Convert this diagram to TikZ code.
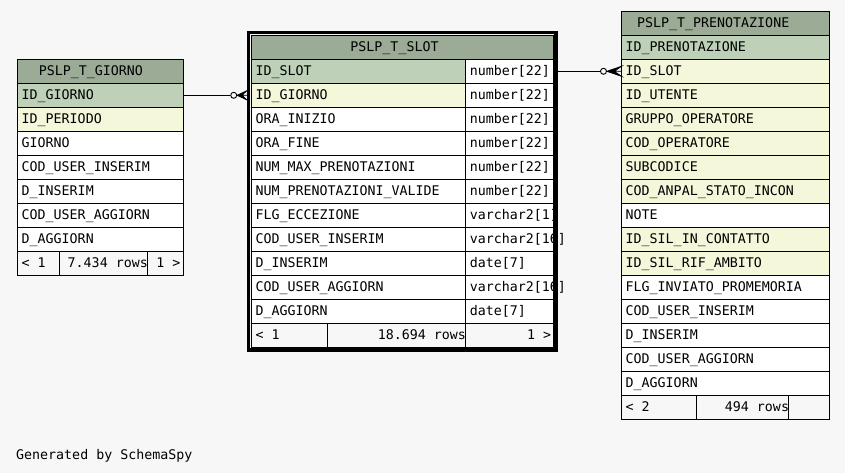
\documentclass[tikz,border=0pt]{standalone}
\usepackage{fontspec}
\newfontfamily\spyfont{DejaVu Sans Mono}
\usetikzlibrary{positioning,fit,calc}

\definecolor{spybg}{HTML}{F7F7F7}
\definecolor{spyhead}{HTML}{9BAB96}
\definecolor{spypk}{HTML}{BED1B8}
\definecolor{spyfk}{HTML}{F4F7DA}

\tikzset{
	spycell/.style={draw,rectangle,anchor=north west,minimum height=24pt,inner sep=0pt,outer sep=0pt,line width=1pt},
	spytext/.style={anchor=base west,inner sep=0pt,font={\spyfont\fontsize{13.3pt}{15pt}\selectfont}},
	spyright/.style={spytext,anchor=base east},
	odot/.style={circle,draw,fill=spybg,minimum size=6pt,inner sep=0pt,line width=0.9pt},
	crowfoot/.style={line width=0.8pt,line join=miter}
}

\begin{document}
\begin{tikzpicture}[x=1pt,y=-1pt]
		
			\useasboundingbox (0,0) rectangle (845,473);
			\fill[spybg] (0,0) rectangle (845,473);
			
			% PSLP_T_GIORNO
			\node[spycell,fill=spyhead,minimum width=166pt] (giorno-head) at (17.5,59.3) {};
			\node[spytext,anchor=base] (giorno-title) at ([xshift=-9.7pt,yshift=-16pt]giorno-head.north) {PSLP\_T\_GIORNO};
			\foreach \cname/\ctint [count=\i] in {ID\_GIORNO/spypk,ID\_PERIODO/spyfk,GIORNO/white,COD\_USER\_INSERIM/white,D\_INSERIM/white,COD\_USER\_AGGIORN/white,D\_AGGIORN/white} {
				\node[spycell,fill=\ctint,minimum width=166pt] (giorno-\i) at (17.5,{59.3+24*\i}) {};
				\node[spytext] (giorno-\i-txt) at ([xshift=4pt,yshift=-16pt]giorno-\i.north west) {\cname};
			}
			\node[spycell,minimum width=42pt] (giorno-foot-a) at (17.5,251.3) {};
			\node[spycell,minimum width=88pt,right=0pt of giorno-foot-a] (giorno-foot-b) {};
			\node[spycell,minimum width=36pt,right=0pt of giorno-foot-b] (giorno-foot-c) {};
			\node[spytext] (giorno-prev) at ([xshift=4pt,yshift=-16pt]giorno-foot-a.north west) {< 1};
			\node[spyright] (giorno-rows) at ([xshift=0.5pt,yshift=-16pt]giorno-foot-b.north east) {7.434 rows};
			\node[spyright] (giorno-next) at ([xshift=-3pt,yshift=-16pt]giorno-foot-c.north east) {1 >};
			
			% PSLP_T_SLOT
			\node[spycell,fill=spyhead,minimum width=302pt] (slot-head) at (251.3,35.3) {};
			\node[spytext,anchor=base] (slot-title) at ([xshift=-7.8pt,yshift=-16pt]slot-head.north) {PSLP\_T\_SLOT};
			\foreach \cname/\ctype/\ctint [count=\i] in {ID\_SLOT/number[22]/spypk,ID\_GIORNO/number[22]/spyfk,ORA\_INIZIO/number[22]/white,ORA\_FINE/number[22]/white,NUM\_MAX\_PRENOTAZIONI/number[22]/white,NUM\_PRENOTAZIONI\_VALIDE/number[22]/white,FLG\_ECCEZIONE/varchar2[1]/white,COD\_USER\_INSERIM/varchar2[16]/white,D\_INSERIM/date[7]/white,COD\_USER\_AGGIORN/varchar2[16]/white,D\_AGGIORN/date[7]/white} {
				\node[spycell,fill=\ctint,minimum width=214.4pt] (slot-\i) at (251.3,{35.3+24*\i}) {};
				\node[spycell,fill=white,minimum width=87.6pt,right=0pt of slot-\i] (slot-\i-type) {};
				\node[spytext] (slot-\i-txt) at ([xshift=4pt,yshift=-16pt]slot-\i.north west) {\cname};
				\node[spytext] (slot-\i-typetxt) at ([xshift=4pt,yshift=-16pt]slot-\i-type.north west) {\ctype};
			}
			\node[spycell,minimum width=76pt] (slot-foot-a) at (251.3,323.3) {};
			\node[spycell,minimum width=138.4pt,right=0pt of slot-foot-a] (slot-foot-b) {};
			\node[spycell,minimum width=87.6pt,right=0pt of slot-foot-b] (slot-foot-c) {};
			\node[spytext] (slot-prev) at ([xshift=4pt,yshift=-16pt]slot-foot-a.north west) {< 1};
			\node[spyright] (slot-rows) at ([xshift=0.5pt,yshift=-16pt]slot-foot-b.north east) {18.694 rows};
			\node[spyright] (slot-next) at ([xshift=-2pt,yshift=-16pt]slot-foot-c.north east) {1 >};
			\node[draw,line width=3.5pt,inner sep=2.8pt,fit=(slot-head)(slot-foot-c)] (slot-frame) {};
			
			% PSLP_T_PRENOTAZIONE
			\node[spycell,fill=spyhead,minimum width=208pt] (pren-head) at (621.5,11.3) {};
			\node[spytext,anchor=base] (pren-title) at ([xshift=-12.3pt,yshift=-16pt]pren-head.north) {PSLP\_T\_PRENOTAZIONE};
			\foreach \cname/\ctint [count=\i] in {ID\_PRENOTAZIONE/spypk,ID\_SLOT/spyfk,ID\_UTENTE/spyfk,GRUPPO\_OPERATORE/spyfk,COD\_OPERATORE/spyfk,SUBCODICE/spyfk,COD\_ANPAL\_STATO\_INCON/spyfk,NOTE/white,ID\_SIL\_IN\_CONTATTO/spyfk,ID\_SIL\_RIF\_AMBITO/spyfk,FLG\_INVIATO\_PROMEMORIA/white,COD\_USER\_INSERIM/white,D\_INSERIM/white,COD\_USER\_AGGIORN/white,D\_AGGIORN/white} {
				\node[spycell,fill=\ctint,minimum width=208pt] (pren-\i) at (621.5,{11.3+24*\i}) {};
				\node[spytext] (pren-\i-txt) at ([xshift=4pt,yshift=-16pt]pren-\i.north west) {\cname};
			}
			\node[spycell,minimum width=74.8pt] (pren-foot-a) at (621.5,395.3) {};
			\node[spycell,minimum width=92.4pt,right=0pt of pren-foot-a] (pren-foot-b) {};
			\node[spycell,minimum width=40.8pt,right=0pt of pren-foot-b] (pren-foot-c) {};
			\node[spytext] (pren-prev) at ([xshift=4pt,yshift=-16pt]pren-foot-a.north west) {< 2};
			\node[spyright] (pren-rows) at ([xshift=0.5pt,yshift=-16pt]pren-foot-b.north east) {494 rows};
			
			% relationships
			\node[odot] (giorno-odot) at (233.7,95.3) {};
			\coordinate (giorno-crow) at (giorno-odot.east);
			\coordinate (giorno-toe) at (slot-frame.west |- slot-2.west);
			\draw (giorno-1) -- (giorno-odot);
			\filldraw[crowfoot] (giorno-crow) -- ([yshift=4.5pt]giorno-toe) -- ($(giorno-crow)!0.5!(giorno-toe)$) -- (giorno-toe) -- ($(giorno-crow)!0.5!(giorno-toe)$) -- ([yshift=-4.5pt]giorno-toe) -- cycle;
			
			\node[odot] (slot-odot) at (603.5,71.3) {};
			\coordinate (slot-crow) at (slot-odot.east);
			\coordinate (slot-toe) at (pren-2.west);
			\draw (slot-1-type) -- (slot-odot);
			\filldraw[crowfoot] (slot-crow) -- ([yshift=5pt]slot-toe) -- ($(slot-crow)!0.5!(slot-toe)$) -- (slot-toe) -- ($(slot-crow)!0.5!(slot-toe)$) -- ([yshift=-5pt]slot-toe) -- cycle;
			
			\node[spytext] (spy-credit) at (16,459.3) {Generated by SchemaSpy};
		
		\end{tikzpicture}
\end{document}
